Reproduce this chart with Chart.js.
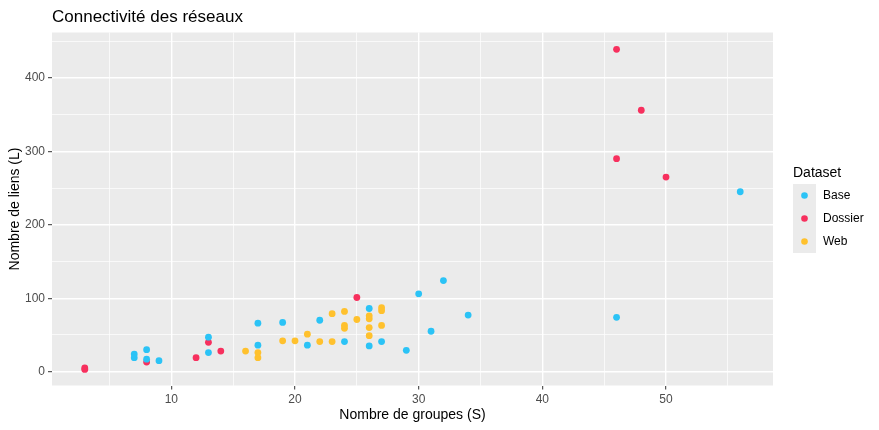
<!DOCTYPE html>
<html>
<head>
<meta charset="utf-8">
<script src="https://cdn.jsdelivr.net/npm/chart.js@4/dist/chart.umd.min.js"></script>
<style>
  html, body { margin: 0; padding: 0; background: #fff; }
  #wrap { width: 879px; height: 430px; }
</style>
</head>
<body>
<div id="wrap"><canvas id="chart" width="879" height="430"></canvas></div>
<script>
// data: S = groupes, L = liens
const seriesNames = ['Base', 'Dossier', 'Web'];
const seriesColors = ['#2BC3F6', '#F7305E', '#FFC12D'];

const baseS = [7, 7, 8, 8, 9, 13, 13, 17, 17, 19, 21, 22, 24, 26, 26, 27, 29, 30, 31, 32, 34, 46, 56];
const baseL = [24, 19, 30, 17, 15, 47, 26, 66, 36, 67, 36, 70, 41, 86, 35, 41, 29, 106, 55, 124, 77, 74, 245];

const dossierS = [3, 3, 8, 12, 13, 14, 25, 46, 46, 48, 50];
const dossierL = [5, 3, 13, 19, 40, 28, 101, 439, 290, 356, 265];

const webS = [16, 17, 17, 19, 20, 21, 22, 23, 23, 24, 24, 24, 25, 26, 26, 26, 26, 27, 27, 27];
const webL = [28, 26, 19, 42, 42, 51, 41, 79, 41, 82, 63, 59, 71, 76, 72, 60, 49, 87, 83, 63];

const xTicks = [5, 10, 15, 20, 25, 30, 35, 40, 45, 50, 55];
const yTicks = [0, 50, 100, 150, 200, 250, 300, 350, 400, 450];

const zip = (xs, ys) => xs.map((x, i) => ({ x: x, y: ys[i] }));
const seriesData = [zip(baseS, baseL), zip(dossierS, dossierL), zip(webS, webL)];

// panel background + title + legend, ggplot style
const ggDecor = {
  id: 'ggDecor',
  beforeDraw(chart) {
    const { ctx, chartArea: a } = chart;
    ctx.save();
    ctx.fillStyle = '#EBEBEB';
    ctx.fillRect(a.left, a.top, a.right - a.left, a.bottom - a.top);
    ctx.restore();
  },
  afterDraw(chart) {
    const { ctx, chartArea: a } = chart;
    ctx.save();
    ctx.fillStyle = '#000';
    ctx.textBaseline = 'alphabetic';
    ctx.textAlign = 'left';
    ctx.font = '17px "Liberation Sans", Arial, sans-serif';
    ctx.fillText('Connectivité des réseaux', a.left, 22);

    // legend
    const lx = 793, ly = 184, key = 23;
    ctx.font = '14px "Liberation Sans", Arial, sans-serif';
    ctx.fillText('Dataset', lx, 177);
    ctx.font = '12px "Liberation Sans", Arial, sans-serif';
    ctx.textBaseline = 'middle';
    chart.data.datasets.forEach((ds, i) => {
      const y = ly + i * key;
      ctx.fillStyle = '#EBEBEB';
      ctx.fillRect(lx, y, key, key);
      ctx.fillStyle = ds.backgroundColor;
      ctx.beginPath();
      ctx.arc(lx + key / 2, y + key / 2, 3.3, 0, Math.PI * 2);
      ctx.fill();
      ctx.fillStyle = '#000';
      ctx.fillText(ds.label, lx + 30, y + key / 2);
    });
    ctx.restore();
  }
};

const major = (v, step) => Math.round(v) % step === 0;

new Chart(document.getElementById('chart'), {
  type: 'scatter',
  data: {
    datasets: seriesNames.map((name, i) => ({
      label: name,
      data: seriesData[i],
      backgroundColor: seriesColors[i],
      borderColor: seriesColors[i],
      borderWidth: 0,
      pointRadius: 3.4,
      pointHoverRadius: 3.4
    }))
  },
  options: {
    responsive: false,
    animation: false,
    layout: { padding: { top: 32.5, right: 106, bottom: 6, left: 7 } },
    plugins: {
      legend: { display: false },
      tooltip: { enabled: false }
    },
    scales: {
      x: {
        type: 'linear',
        min: 0.35,
        max: 58.65,
        afterBuildTicks: s => { s.ticks = xTicks.map(v => ({ value: v })); },
        afterFit: s => { s.height = 38.5; },
        border: { display: false },
        grid: {
          color: '#fff',
          lineWidth: c => (c.tick && major(c.tick.value, 10) ? 1.4 : 0.7),
          tickColor: c => (c.tick && major(c.tick.value, 10) ? '#333' : 'rgba(0,0,0,0)'),
          tickWidth: 1,
          tickLength: 4
        },
        ticks: {
          autoSkip: false,
          maxRotation: 0,
          padding: 3,
          color: '#4D4D4D',
          font: { family: '"Liberation Sans", Arial, sans-serif', size: 12 },
          callback: v => (major(v, 10) ? v : '')
        },
        title: {
          display: true,
          text: 'Nombre de groupes (S)',
          color: '#000',
          padding: { top: 2, bottom: 0 },
          font: { family: '"Liberation Sans", Arial, sans-serif', size: 14 }
        }
      },
      y: {
        type: 'linear',
        min: -18.85,
        max: 461.85,
        afterBuildTicks: s => { s.ticks = yTicks.map(v => ({ value: v })); },
        afterFit: s => { s.width = 45; },
        border: { display: false },
        grid: {
          color: '#fff',
          lineWidth: c => (c.tick && major(c.tick.value, 100) ? 1.4 : 0.7),
          tickColor: c => (c.tick && major(c.tick.value, 100) ? '#333' : 'rgba(0,0,0,0)'),
          tickWidth: 1,
          tickLength: 4
        },
        ticks: {
          autoSkip: false,
          padding: 3,
          color: '#4D4D4D',
          font: { family: '"Liberation Sans", Arial, sans-serif', size: 12 },
          callback: v => (major(v, 100) ? v : '')
        },
        title: {
          display: true,
          text: 'Nombre de liens (L)',
          color: '#000',
          padding: { top: 0, bottom: 2 },
          font: { family: '"Liberation Sans", Arial, sans-serif', size: 14 }
        }
      }
    }
  },
  plugins: [ggDecor]
});
</script>
</body>
</html>
